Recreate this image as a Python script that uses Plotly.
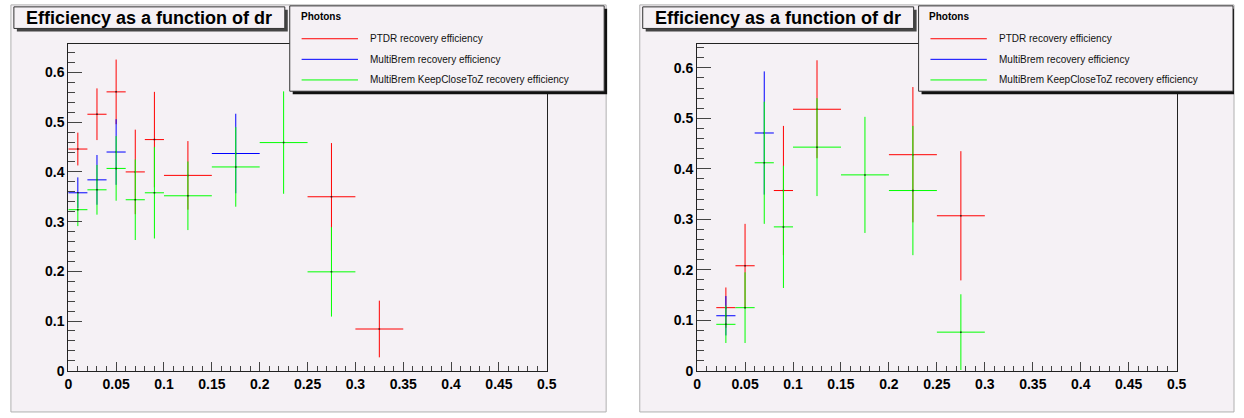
import plotly.graph_objects as go

W, H = 1244, 418

# bin edges in dr, and tick labels
bin_edges = [0, 0.02, 0.04, 0.06, 0.08, 0.1, 0.15, 0.2, 0.25, 0.3, 0.35, 0.4, 0.45, 0.5]
x_ticks = [0, 0.05, 0.1, 0.15, 0.2, 0.25, 0.3, 0.35, 0.4, 0.45, 0.5]
x_tick_labels = ["0", "0.05", "0.1", "0.15", "0.2", "0.25", "0.3", "0.35", "0.4", "0.45", "0.5"]
y_ticks = [0, 0.1, 0.2, 0.3, 0.4, 0.5, 0.6]
y_tick_labels = ["0", "0.1", "0.2", "0.3", "0.4", "0.5", "0.6"]

series_names = [
    "PTDR recovery efficiency",
    "MultiBrem recovery efficiency",
    "MultiBrem KeepCloseToZ recovery efficiency",
]

# left canvas
left_red_x = [0.01, 0.03, 0.05, 0.07, 0.09, 0.125, 0.275, 0.325]
left_red_y = [0.446, 0.516, 0.561, 0.400, 0.465, 0.393, 0.350, 0.084]
left_red_err = [0.033, 0.052, 0.065, 0.085, 0.096, 0.069, 0.108, 0.057]

left_blue_x = [0.01, 0.03, 0.05, 0.175]
left_blue_y = [0.358, 0.384, 0.440, 0.437]
left_blue_err = [0.031, 0.050, 0.066, 0.080]

left_green_x = [0.01, 0.03, 0.05, 0.07, 0.09, 0.125, 0.175, 0.225, 0.275]
left_green_y = [0.324, 0.364, 0.407, 0.344, 0.358, 0.352, 0.410, 0.459, 0.199]
left_green_err = [0.033, 0.050, 0.065, 0.081, 0.092, 0.069, 0.080, 0.103, 0.090]

# right canvas
right_red_x = [0.03, 0.05, 0.09, 0.125, 0.225, 0.275]
right_red_y = [0.125, 0.208, 0.357, 0.518, 0.428, 0.307]
right_red_err = [0.040, 0.083, 0.128, 0.097, 0.134, 0.128]

right_blue_x = [0.03, 0.07]
right_blue_y = [0.109, 0.471]
right_blue_err = [0.039, 0.122]

right_green_x = [0.03, 0.05, 0.07, 0.09, 0.125, 0.175, 0.225, 0.275]
right_green_y = [0.092, 0.125, 0.412, 0.285, 0.443, 0.388, 0.357, 0.0765]
right_green_err = [0.037, 0.070, 0.121, 0.121, 0.097, 0.115, 0.128, 0.075]

COLORS = ["#ff0000", "#0000ff", "#00ff00"]
CANVAS = "#f5f1f5"
FONT = "Liberation Sans"


def fx(px):
    return px / W


def fy(py):
    return 1 - py / H


def half_width(x):
    for lo, hi in zip(bin_edges[:-1], bin_edges[1:]):
        if lo <= x < hi:
            return (hi - lo) / 2
    return 0


fig = go.Figure()

panels = [
    ("x", "y", [(left_red_x, left_red_y, left_red_err),
                (left_blue_x, left_blue_y, left_blue_err),
                (left_green_x, left_green_y, left_green_err)]),
    ("x2", "y2", [(right_red_x, right_red_y, right_red_err),
                  (right_blue_x, right_blue_y, right_blue_err),
                  (right_green_x, right_green_y, right_green_err)]),
]

for xa, ya, series in panels:
    for (xs, ys, es), color, name in zip(series, COLORS, series_names):
        fig.add_trace(
            go.Scatter(
                x=xs,
                y=ys,
                mode="markers",
                name=name,
                xaxis=xa,
                yaxis=ya,
                marker=dict(size=1.5, color="#222222", symbol="square"),
                error_x=dict(type="data", array=[half_width(v) for v in xs],
                             color=color, thickness=1, width=0),
                error_y=dict(type="data", array=es, color=color, thickness=1, width=0),
                showlegend=False,
            )
        )

shapes = []
annotations = []

# canvases, title boxes and legends; right canvas offset by 636 px
for off in [0, 636]:
    shapes.append(dict(type="rect", xref="paper", yref="paper", layer="below",
                       x0=fx(7 + off), x1=fx(min(609 + off, W)), y0=fy(420), y1=fy(5),
                       fillcolor=CANVAS, line=dict(color="#b0b0b0", width=1)))
    # title box with shadow
    shapes.append(dict(type="rect", xref="paper", yref="paper", layer="above",
                       x0=fx(13 + off), x1=fx(287 + off), y0=fy(32), y1=fy(10),
                       fillcolor="#444444", line=dict(width=0)))
    shapes.append(dict(type="rect", xref="paper", yref="paper", layer="above",
                       x0=fx(10 + off), x1=fx(284 + off), y0=fy(29), y1=fy(7),
                       fillcolor=CANVAS, line=dict(color="#333333", width=1)))
    annotations.append(dict(xref="paper", yref="paper", x=fx(147 + off), y=fy(18.5),
                            text="Efficiency as a function of dr", showarrow=False,
                            xanchor="center", yanchor="middle",
                            font=dict(family=FONT, size=18, color="black", weight="bold")))
    # legend box with shadow
    lx = 289 + off
    shapes.append(dict(type="rect", xref="paper", yref="paper", layer="above",
                       x0=fx(lx + 3), x1=fx(min(lx + 321, W)), y0=fy(96), y1=fy(9),
                       fillcolor="#111111", line=dict(width=0)))
    shapes.append(dict(type="rect", xref="paper", yref="paper", layer="above",
                       x0=fx(lx), x1=fx(min(lx + 318, W)), y0=fy(93), y1=fy(6),
                       fillcolor=CANVAS, line=dict(color="#333333", width=1)))
    annotations.append(dict(xref="paper", yref="paper", x=fx(lx + 9), y=fy(17),
                            text="Photons", showarrow=False, xanchor="left", yanchor="middle",
                            font=dict(family=FONT, size=10, color="black", weight="bold")))
    for i, (color, name) in enumerate(zip(COLORS, series_names)):
        ly = 39.5 + 21 * i
        shapes.append(dict(type="line", xref="paper", yref="paper", layer="above",
                           x0=fx(lx + 12), x1=fx(lx + 69), y0=fy(ly), y1=fy(ly),
                           line=dict(color=color, width=1)))
        annotations.append(dict(xref="paper", yref="paper", x=fx(lx + 79), y=fy(ly),
                                text=name, showarrow=False, xanchor="left", yanchor="middle",
                                font=dict(family=FONT, size=10, color="#111111")))

tickfont = dict(family=FONT, size=14, color="black", weight="bold")


def x_axis(x0, x1, anchor):
    return dict(domain=[fx(x0), fx(x1)], range=[0, 0.5], anchor=anchor,
                showgrid=False, zeroline=False, showline=True, linecolor="#222222",
                linewidth=1, mirror=True, ticks="inside", ticklen=9, tickcolor="#444444",
                tickmode="array", tickvals=x_ticks, ticktext=x_tick_labels, tickfont=tickfont,
                minor=dict(tickmode="linear", tick0=0, dtick=0.01, ticks="inside",
                           ticklen=5, tickcolor="#444444", showgrid=False))


def y_axis(top, anchor):
    return dict(domain=[fy(378), fy(45)], range=[0, top], anchor=anchor,
                showgrid=False, zeroline=False, showline=True, linecolor="#222222",
                linewidth=1, mirror=True, ticks="inside", ticklen=14, tickcolor="#444444",
                tickmode="array", tickvals=y_ticks, ticktext=y_tick_labels, tickfont=tickfont,
                minor=dict(tickmode="linear", tick0=0, dtick=0.02, ticks="inside",
                           ticklen=7, tickcolor="#444444", showgrid=False))


fig.update_layout(
    width=W,
    height=H,
    margin=dict(l=0, r=0, t=0, b=0),
    paper_bgcolor="white",
    plot_bgcolor="rgba(0,0,0,0)",
    xaxis=x_axis(65, 549, "y"),
    yaxis=y_axis(0.657, "x"),
    xaxis2=x_axis(701, 1186, "y2"),
    yaxis2=y_axis(0.647, "x2"),
    shapes=shapes,
    annotations=annotations,
)

fig.write_html("out.html", config={"displayModeBar": False},
               post_script="document.body.style.margin='0';")
